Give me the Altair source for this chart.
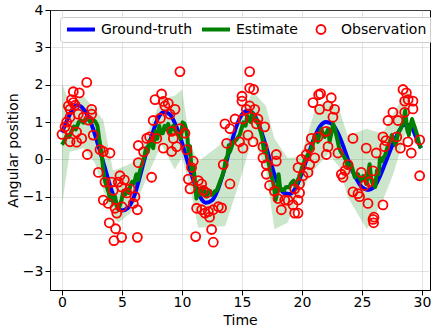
import altair as alt
import pandas as pd

SERIES = ["Ground-truth", "Estimate", "Observation"]
COLORS = ["#0000ff", "#008000", "#ff0000"]

gt_t = [0.0, 0.5, 1.0, 1.25, 1.5, 2.0, 2.5, 3.0, 3.5, 4.0, 4.5, 5.0, 5.5, 6.0, 6.5, 7.0, 7.5, 8.0, 8.5,
        9.0, 9.5, 10.0, 10.5, 11.0, 11.5, 12.0, 12.5, 13.0, 13.5, 14.0, 14.5, 15.0, 15.5, 16.0, 16.5,
        17.0, 17.5, 18.0, 18.5, 19.0, 19.5, 20.0, 20.5, 21.0, 21.5, 22.0, 22.5, 23.0, 23.5, 24.0, 24.5,
        25.0, 25.5, 26.0, 26.5, 27.0, 27.5, 28.0, 28.5, 29.0, 29.5, 29.9]
gt_y = [0.72, 1.1, 1.4, 1.45, 1.43, 1.25, 0.9, 0.4, -0.15, -0.7, -1.15, -1.37, -1.3, -1.0, -0.45, 0.15,
        0.65, 1.1, 1.27, 1.2, 0.9, 0.45, -0.1, -0.6, -1.0, -1.16, -1.1, -0.8, -0.3, 0.3, 0.85, 1.2, 1.3,
        1.2, 0.85, 0.35, -0.2, -0.65, -0.9, -0.93, -0.75, -0.35, 0.1, 0.55, 0.88, 1.0, 0.95, 0.7, 0.3,
        -0.15, -0.5, -0.75, -0.82, -0.75, -0.45, -0.05, 0.35, 0.7, 0.92, 0.92, 0.6, 0.3]

# Estimate
est_t = [0.0, 0.2, 0.4, 0.6, 0.8, 1.0, 1.15, 1.4, 1.6, 1.8, 2.0, 2.2, 2.4, 2.6, 2.8, 2.95, 3.1, 3.3, 3.45,
         3.6, 3.75, 3.9, 4.0, 4.14, 4.28, 4.42, 4.55, 4.7, 4.85, 4.97, 5.1, 5.25, 5.4, 5.55, 5.7, 5.85,
         6.0, 6.2, 6.35, 6.5, 6.7, 6.85, 7.0, 7.15, 7.3, 7.45, 7.6, 7.8, 7.95, 8.1, 8.25, 8.4, 8.55, 8.7,
         8.85, 9.0, 9.15, 9.3, 9.45, 9.6, 9.8, 9.9, 10.05, 10.2, 10.35, 10.45, 10.55, 10.67, 10.8, 10.95,
         11.08, 11.2, 11.35, 11.5, 11.65, 11.8, 11.95, 12.05, 12.2, 12.35, 12.5, 12.6, 12.75, 12.9, 13.05,
         13.2, 13.35, 13.5, 13.65, 13.8, 13.9, 14.0, 14.15, 14.3, 14.45, 14.6, 14.8, 14.95, 15.1, 15.3,
         15.44, 15.6, 15.7, 15.86, 16.0, 16.14, 16.3, 16.4, 16.55, 16.7, 16.83, 16.97, 17.1, 17.25, 17.4,
         17.55, 17.67, 17.8, 17.94, 18.05, 18.2, 18.35, 18.5, 18.65, 18.8, 18.95, 19.06, 19.2, 19.3,
         19.47, 19.6, 19.75, 19.9, 20.0, 20.15, 20.3, 20.5, 20.67, 20.8, 20.95, 21.06, 21.2, 21.33, 21.45,
         21.6, 21.75, 21.9, 22.05, 22.2, 22.3, 22.45, 22.6, 22.75, 22.86, 23.0, 23.1, 23.25, 23.4, 23.55,
         23.7, 23.83, 23.95, 24.1, 24.25, 24.4, 24.55, 24.67, 24.8, 24.94, 25.1, 25.2, 25.36, 25.5, 25.64,
         25.78, 25.9, 26.1, 26.25, 26.4, 26.5, 26.67, 26.8, 26.94, 27.1, 27.2, 27.35, 27.5, 27.65, 27.8,
         27.95, 28.06, 28.2, 28.33, 28.45, 28.6, 28.75, 28.9, 29.05, 29.17, 29.3, 29.44, 29.6, 29.72,
         29.85, 29.95]
est_y = [0.39, 0.5, 0.65, 0.6, 0.75, 0.88, 0.8, 1.0, 1.04, 0.98, 1.06, 1.08, 0.98, 1.06, 1.0, 0.9, 0.55,
         0.15, -0.3, -0.6, -0.75, -0.9, -1.09, -0.95, -1.18, -1.0, -1.25, -1.35, -1.2, -1.09, -0.85, -0.95,
         -0.8, -0.9, -0.7, -0.6, -0.65, -0.4, -0.55, -0.3, -0.1, 0.05, 0.3, 0.2, 0.5, 0.45, 0.3, 0.75,
         0.55, 0.9, 0.7, 0.7, 0.9, 0.8, 0.95, 0.7, 0.85, 0.9, 0.75, 0.72, 0.6, 0.56, 0.99, 0.95, 0.8, 0.6,
         0.15, 0.35, -0.3, -0.2, -0.57, -1.05, -0.85, -0.95, -0.8, -0.75, -0.95, -1.0, -0.85, -0.85, -0.95,
         -0.92, -0.85, -0.83, -0.7, -0.57, -0.45, -0.3, 0.0, 0.1, 0.38, 0.21, 0.35, 0.47, 0.5, 0.56, 0.65,
         0.8, 0.99, 0.9, 1.17, 1.05, 1.0, 1.25, 1.15, 1.08, 1.0, 0.91, 0.75, 0.56, 0.21, 0.3, 0.04, -0.13,
         -0.4, -0.55, -0.74, -1.09, -0.9, -0.4, -0.83, -0.8, -0.83, -0.75, -0.74, -0.75, -0.66, -0.6,
         -0.57, -0.72, -0.6, -0.48, -0.35, -0.22, -0.1, 0.04, 0.12, 0.21, 0.3, 0.45, 0.65, 0.55, 0.47,
         0.65, 0.82, 0.7, 0.6, 0.7, 0.82, 0.47, 0.7, 0.95, 0.8, 0.65, 0.45, 0.3, 0.2, 0.12, 0.05, -0.05,
         -0.22, -0.15, -0.13, -0.3, -0.48, -0.42, -0.4, -0.5, -0.57, -0.45, -0.5, -0.66, -0.4, -0.13,
         -0.55, -0.66, -0.74, -0.3, -0.4, 0.04, -0.05, 0.05, 0.12, 0.3, 0.38, 0.5, 0.65, 0.5, 0.38, 0.6,
         0.74, 0.8, 0.91, 1.0, 1.3, 0.82, 0.65, 0.9, 1.08, 0.95, 0.82, 0.65, 0.47, 0.35, 0.3]

# Uncertainty band
band_t = [0.0, 0.65, 1.8, 2.75, 3.45, 4.25, 4.7, 5.7, 6.4, 7.3, 8.3, 9.4, 10.0, 10.7, 11.35, 13.6,
          14.8, 15.9, 17.0, 17.7, 18.8, 19.9, 21.1, 22.2, 23.1, 23.8, 25.4, 26.7, 27.6, 28.6, 28.9]
band_lo = [-1.22, 0.2, 0.3, -0.1, -0.84, -1.55, -1.7, -1.44, -1.0, -0.31, 0.39, -0.27, 0.05, -0.8,
           -1.83, -1.79, -0.6, 0.6, -0.3, -1.87, -1.7, -0.85, -0.25, 0.15, -0.2, -1.0, -1.87, -1.13,
           -0.4, 0.65, 0.95]
band_hi = [2.04, 1.5, 1.69, 1.34, 1.04, -0.3, -0.25, -0.12, 0.04, 0.86, 1.63, 1.7, 1.87, 0.39, -0.06,
           0.5, 1.1, 1.82, 1.43, 0.56, 0.04, 0.06, 1.35, 1.6, 1.34, 0.64, 0.82, 0.69, 1.2, 1.8, 1.85]

obs_t = [0.0, 0.25, 0.39, 0.53, 0.67, 0.67, 0.8, 0.94, 0.94, 1.1, 1.36, 1.44, 1.78, 2.06, 2.47, 2.47,
         2.2, 0.67, 1.22, 1.22, 1.64, 0.5, 2.11, 2.6, 3.17, 3.44, 4.0, 3.03, 3.58, 4.14, 4.83, 4.69,
         4.97, 4.28, 3.44, 3.86, 4.42, 4.56, 5.0, 5.67, 6.08, 5.94, 6.28, 3.94, 4.47, 4.33, 4.97, 6.28,
         5.4, 5.2,
         6.36, 6.36, 7.47, 6.8, 7.06, 7.3, 7.6, 7.75, 8.3, 8.44, 8.58, 8.86, 9.42, 9.0, 8.2, 7.9, 8.44,
         9.14, 9.56, 9.28, 9.14, 9.83, 9.83, 10.25, 10.39, 10.94, 10.8, 10.53, 10.67, 11.36, 11.64,
         11.78, 12.05, 11.22, 11.64, 11.92, 12.2, 12.6, 13.03, 13.3, 12.3, 12.47, 12.61, 11.14, 13.44,
         14.0, 13.72, 13.58, 14.0, 14.42, 14.8,
         15.64, 15.64, 15.97, 15.0, 15.0, 15.64, 16.06, 15.36, 15.08, 16.33, 16.2, 16.89, 15.5, 15.92,
         15.08, 16.75, 16.75, 17.03, 17.86, 17.86, 17.03, 17.3, 17.7, 18.0, 18.56, 18.85, 18.28, 19.25,
         19.67, 19.8, 19.39, 19.67, 19.39, 19.8, 20.08, 20.5, 20.64, 21.06, 20.64, 20.36, 19.95, 19.67,
         20.78, 21.33,
         22.03, 22.17, 22.0, 20.92, 21.47, 21.39, 21.55, 22.44, 22.17, 22.72, 22.58, 23.0, 23.28, 23.42,
         23.83, 24.25, 23.6, 24.25, 24.67, 24.94, 24.8, 25.5, 25.36, 26.19, 25.92, 25.6, 25.22, 26.75,
         25.92, 25.97, 26.0, 26.75, 26.89, 27.0,
         27.17, 27.58, 28.0, 28.56, 28.42, 28.7, 28.56, 28.85, 29.25, 29.25, 28.83, 29.11, 29.81, 29.81,
         28.2, 27.9]
obs_y = [0.67, 0.87, 1.0, 1.43, 1.34, 1.13, 1.6, 1.81, 1.52, 1.45, 1.21, 1.78, 1.13, 2.06, 1.34, 1.21,
         1.05, 0.47, 0.73, 0.46, 0.56, 0.8, 0.13, 0.65, 0.26, 0.21, 0.17, -0.35, -0.61, -0.61, -0.44,
         -0.61, -0.74, -0.83, -1.09, -1.18, -1.31, -1.44, -1.27, -0.79, -1.0, -1.18, -1.35, -1.7, -1.86,
         -2.18, -2.09, -2.09, -0.9, -0.55,
         0.37, -0.09, -0.48, 0.2, 0.56, 0.6, 1.04, 1.6, 1.75, 1.55, 1.43, 1.5, 1.34, 1.21, 1.1, 0.56,
         0.3, 0.21, 0.34, 0.56, 0.75, 2.35, 0.82, 0.7, 0.26, -0.05, -0.22, -0.53, -0.79, -0.57, -0.66,
         -0.83, -0.9, -1.31, -1.35, -1.44, -1.4, -1.35, -1.27, -1.3, -1.55, -1.88, -2.22, -2.07, -0.14,
         -0.66, 0.43, 0.95, 0.82, 1.08, 0.47,
         2.35, 1.91, 1.87, 1.69, 1.56, 1.43, 1.34, 1.34, 1.08, 1.08, 0.95, 0.87, 0.65, 0.47, 0.3, 0.34,
         0.04, -0.14, 0.13, -0.05, -0.4, -0.7, -0.85, -1.05, -1.09, -1.1, -1.35, -1.22, -1.09, -0.9,
         -1.44, -1.44, -0.79, -0.66, -0.44, -0.35, -0.14, 0.04, 0.3, 0.13, 0.0, -0.22, 0.56, 0.6,
         0.13, 0.34, 0.75, 1.52, 1.34, 1.73, 1.76, 1.65, 1.43, 1.34, 1.13, 0.17, -0.4, -0.48, -0.14,
         0.56, -0.3, -0.87, -0.92, -0.35, -1.0, -1.18, 0.3, 0.17, -0.31, -0.6, -0.7, -1.22, -1.61,
         -1.7, -1.55, 0.6, 0.34, 0.5,
         1.04, 1.26, 1.04, 1.26, 1.87, 1.78, 1.56, 1.6, 1.56, 1.35, 0.47, 0.17, 0.52, -0.44, 0.3, 0.6]

gt_df = pd.DataFrame({"t": gt_t, "y": gt_y, "series": "Ground-truth"})
est_df = pd.DataFrame({"t": est_t, "y": est_y, "series": "Estimate"})
obs_df = pd.DataFrame({"t": obs_t, "y": obs_y, "series": "Observation"})
band_df = pd.DataFrame({"t": band_t, "lo": band_lo, "hi": band_hi})

FONT = "DejaVu Sans"

xscale = alt.Scale(domain=[-1, 30.67], nice=False, zero=False)
yscale = alt.Scale(domain=[-3.5, 4], nice=False, zero=False)

xaxis = alt.Axis(values=list(range(0, 31, 5)), title="Time", format="d",
                 titleBaseline="alphabetic", titleY=34, labelPadding=0)
yaxis = alt.Axis(values=list(range(-3, 5)), title="Angular position", format="d", titlePadding=2)

legend = alt.Legend(
    orient="none", legendX=10, legendY=7, direction="horizontal", columns=3, title=None,
    labelFont=FONT, labelFontSize=14, labelColor="black", labelOffset=4,
    fillColor="rgba(255,255,255,0.8)", strokeColor="#cccccc", cornerRadius=3,
    padding=5, columnPadding=7, symbolOpacity=1, clipHeight=15, gridAlign="each",
)

color = alt.Color("series:N", scale=alt.Scale(domain=SERIES, range=COLORS), legend=legend)
X = alt.X("t:Q", scale=xscale, axis=xaxis)
Y = alt.Y("y:Q", scale=yscale, axis=yaxis)

band = alt.Chart(band_df).mark_area(color="#008000", opacity=0.2).encode(
    x=alt.X("t:Q", scale=xscale, axis=xaxis),
    y=alt.Y("lo:Q", scale=yscale, axis=yaxis),
    y2="hi:Q",
)

gt_line = alt.Chart(gt_df).mark_line(strokeWidth=4, interpolate="monotone").encode(
    x=X, y=Y, color=color)

est_line = alt.Chart(est_df).mark_line(strokeWidth=4, strokeJoin="round").encode(
    x=X, y=Y, color=color)

obs_pts = alt.Chart(obs_df).mark_point(filled=False, opacity=1).encode(
    x=X, y=Y, color=color,
    shape=alt.Shape("series:N", scale=alt.Scale(domain=SERIES, range=["stroke", "stroke", "circle"]), legend=legend),
    size=alt.Size("series:N", scale=alt.Scale(type="ordinal", domain=SERIES, range=[784, 784, 81]), legend=legend),
    strokeWidth=alt.StrokeWidth("series:N", scale=alt.Scale(type="ordinal", domain=SERIES, range=[4, 4, 1.8]), legend=legend),
)

chart = alt.layer(band, gt_line, est_line, obs_pts).properties(
    width=380, height=280,
    autosize=alt.AutoSizeParams(type="none"),
    padding={"left": 50, "top": 10, "right": 1, "bottom": 36},
    background="white",
).configure_view(
    stroke="black", strokeWidth=1,
).configure_axis(
    labelFont=FONT, labelFontSize=14, labelColor="black",
    titleFont=FONT, titleFontSize=14, titleFontWeight="normal", titleColor="black",
    tickColor="black", tickSize=5, tickWidth=1,
    domainColor="black", domainWidth=1,
    grid=True, gridColor="#b0b0b0", gridOpacity=0.35, gridWidth=1,
    labelPadding=2, titlePadding=2,
)

chart.save("out.html", embed_options={"renderer": "svg", "actions": False})
